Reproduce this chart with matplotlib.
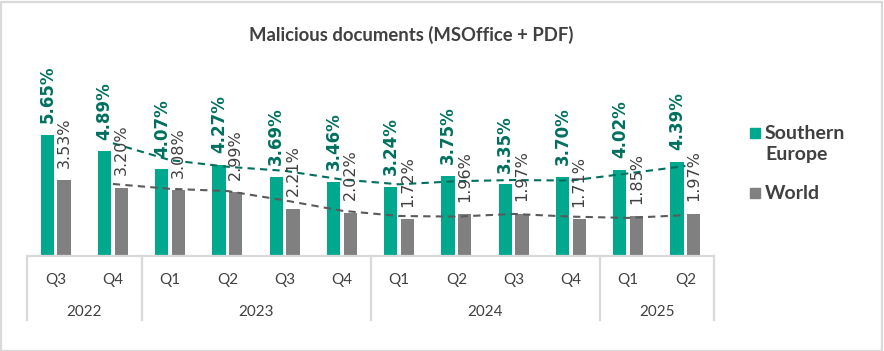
import matplotlib
matplotlib.use("Agg")
import matplotlib.pyplot as plt
import matplotlib.transforms as mtransforms
from matplotlib.patches import Rectangle
import numpy as np
import pandas as pd

plt.rcParams["font.family"] = ["Lato", "DejaVu Sans"]

# データ
quarters = ["Q3", "Q4", "Q1", "Q2", "Q3", "Q4", "Q1", "Q2", "Q3", "Q4", "Q1", "Q2"]
years = ["2022", "2023", "2024", "2025"]
quarters_per_year = [2, 4, 4, 2]
southern_europe = [5.65, 4.89, 4.07, 4.27, 3.69, 3.46, 3.24, 3.75, 3.35, 3.70, 4.02, 4.39]
world = [3.53, 3.20, 3.08, 2.99, 2.21, 2.02, 1.72, 1.96, 1.97, 1.71, 1.85, 1.97]

teal = "#00A88E"
teal_dark = "#00705E"
gray = "#808080"
gray_dark = "#5A5A5A"
text_col = "#404040"
line_col = "#D9D9D9"

W, H = 884, 351
fig = plt.figure(figsize=(W / 100, H / 100), dpi=100)

# 外枠
fig.patches.append(Rectangle((0.5 / W, 0.5 / H), 1 - 2.5 / W, 1 - 2.5 / H,
                             transform=fig.transFigure, fill=False,
                             edgecolor=line_col, linewidth=1.6))

ax = fig.add_axes([27 / W, (H - 256) / H, (714 - 27) / W, (256 - 60) / H])
n = len(quarters)
x = np.arange(n)
ax.set_xlim(-0.5, n - 0.5)
ax.set_ylim(0, 196 / 21.4)

bw = 0.23
off = 0.145
ax.bar(x - off, southern_europe, bw, color=teal, zorder=2)
ax.bar(x + off, world, bw, color=gray, zorder=2)

# 2区間移動平均の近似曲線
se_ma = pd.Series(southern_europe).rolling(2).mean()
w_ma = pd.Series(world).rolling(2).mean()
ax.plot(x, se_ma, color=teal_dark, lw=1.5, ls=(0, (3.5, 2.5)), zorder=3)
ax.plot(x, w_ma, color=gray_dark, lw=1.5, ls=(0, (3.5, 2.5)), zorder=3)

# 値ラベル
for i, v in enumerate(southern_europe):
    ax.annotate(f"{v:.2f}%", (i - off, v), xytext=(0, 8.5), textcoords="offset points",
                rotation=90, ha="center", va="bottom", fontsize=12,
                fontweight="bold", color=teal_dark, family="DejaVu Sans", zorder=4)
for i, v in enumerate(world):
    ax.annotate(f"{v:.2f}%", (i + off, v), xytext=(0, 9), textcoords="offset points",
                rotation=90, ha="center", va="bottom", fontsize=11.5,
                color=text_col, family="DejaVu Sans", zorder=4)

for s in ax.spines.values():
    s.set_visible(False)
ax.set_xticks([])
ax.set_yticks([])

# 横軸と区切り線
trans = mtransforms.blended_transform_factory(ax.transData, ax.transAxes)
ax.plot([-0.5, n - 0.5], [0, 0], transform=trans, color=line_col, lw=1.6, clip_on=False)
drop = -(320 - 256) / 196
bounds = np.concatenate([[0], np.cumsum(quarters_per_year)]) - 0.5
for b in bounds:
    ax.plot([b, b], [0, drop], transform=trans, color=line_col, lw=1.6, clip_on=False)

q_y = -(284 - 256) / 196
y_y = -(316 - 256) / 196
for i, q in enumerate(quarters):
    ax.text(i, q_y, q, transform=trans, ha="center", va="baseline",
            fontsize=11, color=text_col)
for k, yr in enumerate(years):
    ax.text((bounds[k] + bounds[k + 1]) / 2, y_y, yr, transform=trans,
            ha="center", va="baseline", fontsize=11, color=text_col)

# タイトル
fig.text(411 / W, 1 - 40.5 / H, "Malicious documents (MSOffice + PDF)", ha="center",
         va="baseline", fontsize=13.3, fontweight="bold", color=text_col)

# 凡例
legend_items = [(133, teal, ["Southern", "Europe"], [139.5, 160.5]),
                (193, gray, ["World"], [199])]
for yc, col, lines, bases in legend_items:
    fig.patches.append(Rectangle((750 / W, 1 - (yc + 5) / H), 10 / W, 10 / H,
                                 transform=fig.transFigure, color=col))
    for txt, yb in zip(lines, bases):
        fig.text(765 / W, 1 - yb / H, txt, ha="left", va="baseline", fontsize=14,
                 fontweight="bold", color=text_col)

fig.savefig("out.png", dpi=100)
